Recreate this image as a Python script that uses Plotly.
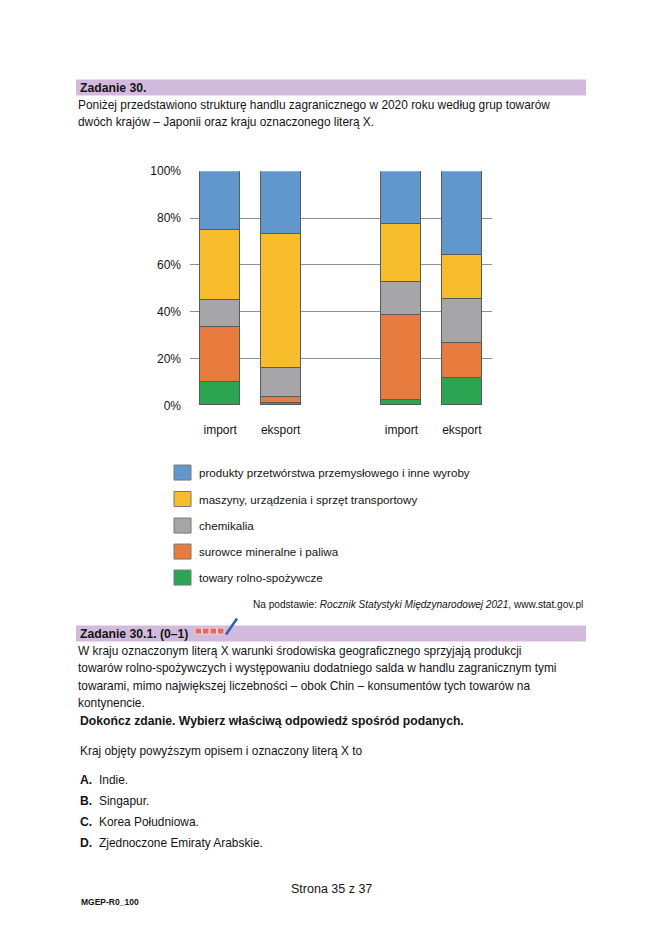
import plotly.graph_objects as go

# --- chart data (shares in %) ---
bar_pos = [0, 1, 3, 4]
bar_labels = ["import", "eksport", "import", "eksport"]
countries = ["Japonia", "X"]
country_pos = [0.5, 3.5]

groups = [
    "towary rolno-spożywcze",
    "surowce mineralne i paliwa",
    "chemikalia",
    "maszyny, urządzenia i sprzęt transportowy",
    "produkty przetwórstwa przemysłowego i inne wyroby",
]
colors = ["#2ba552", "#e77c3e", "#a6a6a9", "#f6bc2c", "#6097cd"]

agri = [10, 1, 2.3, 11.8]
minerals = [23.5, 2.7, 36.1, 14.7]
chemicals = [11.5, 12.4, 14.4, 19]
machines = [30, 57, 24.6, 18.5]
products = [25, 26.9, 22.6, 36]
series = [agri, minerals, chemicals, machines, products]

y_ticks = [0, 20, 40, 60, 80, 100]
y_tick_text = ["0%", "20%", "40%", "60%", "80%", "100%"]

W, H = 664, 939
FONT = "Liberation Sans, Arial, sans-serif"


# page pixel -> paper fraction (corrected for the offset seen in the rendered page)
def px(x):
    return (x - 8) / W


def py(y):
    return 1 - ((y - 14.5) / 0.985) / H


fig = go.Figure()
for name, vals, col in zip(groups, series, colors):
    fig.add_trace(go.Bar(
        x=bar_pos, y=vals, name=name, width=0.66,
        marker=dict(color=col, line=dict(color="#5a5a5a", width=1)),
        showlegend=False, hoverinfo="skip",
    ))

annotations = []
shapes = []


def text(x, y, s, size=11.9, anchor="left", color="#141414"):
    annotations.append(dict(
        x=px(x), y=py(y), xref="paper", yref="paper", text=s, showarrow=False,
        xanchor=anchor, yanchor="middle", font=dict(size=size, family=FONT, color=color),
    ))


# country labels above the bars
for c, pos in zip(countries, country_pos):
    annotations.append(dict(
        x=pos, y=106.5, xref="x", yref="y", text=c, showarrow=False,
        xanchor="center", yanchor="middle", font=dict(size=12, family=FONT, color="#141414"),
    ))

# header bars
for top in (79, 625):
    shapes.append(dict(type="rect", xref="paper", yref="paper", x0=px(76), x1=px(586),
                       y0=py(top), y1=py(top + 16), fillcolor="#d2badc", line=dict(width=0),
                       layer="below"))

text(78, 87, "<b>Zadanie 30.</b>", size=12.2)
text(76, 104, "Poniżej przedstawiono strukturę handlu zagranicznego w 2020 roku według grup towarów")
text(76, 121, "dwóch krajów – Japonii oraz kraju oznaczonego literą X.")

# legend (top row = last series)
leg_y = [472, 498.5, 525, 551, 577]
for name, col, y in zip(groups[::-1], colors[::-1], leg_y):
    shapes.append(dict(type="rect", xref="paper", yref="paper", x0=px(174), x1=px(191),
                       y0=py(y + 7.5), y1=py(y - 7.5), fillcolor=col,
                       line=dict(color="#777777", width=1)))
    text(197, y, name, size=11.6)

text(585, 604, "Na podstawie: <i>Rocznik Statystyki Międzynarodowej 2021</i>, www.stat.gov.pl",
     size=10.1, anchor="right")

text(78, 633, "<b>Zadanie 30.1. (0–1)</b>", size=12.2)
# small icon next to the task number
for i in range(4):
    shapes.append(dict(type="rect", xref="paper", yref="paper", x0=px(195 + i * 7.5),
                       x1=px(201.5 + i * 7.5), y0=py(633.5), y1=py(627.5),
                       fillcolor="#e06a6a", line=dict(color="#f4d0d0", width=1)))
shapes.append(dict(type="line", xref="paper", yref="paper", x0=px(226), y0=py(634),
                   x1=px(237), y1=py(618), line=dict(color="#2e5fae", width=2.5)))

body = [
    "W kraju oznaczonym literą X warunki środowiska geograficznego sprzyjają produkcji",
    "towarów rolno-spożywczych i występowaniu dodatniego salda w handlu zagranicznym tymi",
    "towarami, mimo największej liczebności – obok Chin – konsumentów tych towarów na",
    "kontynencie.",
]
for i, line in enumerate(body):
    text(76, 650 + i * 17.5, line)

text(78, 720, "<b>Dokończ zdanie. Wybierz właściwą odpowiedź spośród podanych.</b>", size=12.2)
text(78, 750, "Kraj objęty powyższym opisem i oznaczony literą X to")

options = ["Indie.", "Singapur.", "Korea Południowa.", "Zjednoczone Emiraty Arabskie."]
for i, (letter, opt) in enumerate(zip("ABCD", options)):
    y = 779 + i * 21
    text(78, y, f"<b>{letter}.</b>", size=12.2)
    text(97, y, opt)

text(331, 888, "Strona 35 z 37", size=12.5, anchor="center")
text(79, 901, "<b>MGEP-R0_100</b>", size=8.5)

fig.update_layout(
    width=W, height=H,
    margin=dict(l=0, r=0, t=0, b=0),
    paper_bgcolor="white", plot_bgcolor="white",
    barmode="stack", bargap=0,
    font=dict(family=FONT, color="#141414"),
    annotations=annotations, shapes=shapes,
    xaxis=dict(
        domain=[px(190), px(492)], range=[-0.5, 4.5],
        tickvals=bar_pos, ticktext=bar_labels, showgrid=False, zeroline=False,
        showline=False, ticks="", ticklabelstandoff=15, tickfont=dict(size=12, color="#141414"),
        fixedrange=True,
    ),
    yaxis=dict(
        domain=[py(405), py(170.7)], range=[0, 100],
        tickvals=y_ticks, ticktext=y_tick_text, showgrid=True, gridcolor="#8f8f8f", gridwidth=1,
        zeroline=False, showline=False, ticks="", ticklabelstandoff=8,
        tickfont=dict(size=12, color="#141414"), fixedrange=True,
    ),
)

fig.write_html("out.html")
